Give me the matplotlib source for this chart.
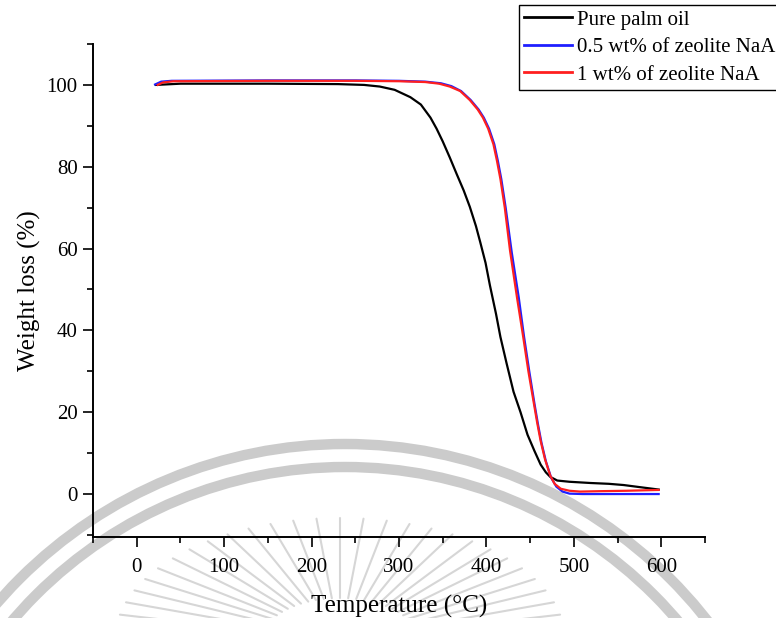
"""TGA curves: pure palm oil vs palm oil with zeolite NaA."""

import matplotlib

matplotlib.use("Agg")
import matplotlib.pyplot as plt  # noqa: E402
import numpy as np  # noqa: E402
from matplotlib.patches import Circle  # noqa: E402
from matplotlib.ticker import MultipleLocator  # noqa: E402

# --- data (temperature, deg C / weight, %) ---
T_PURE = [22, 50, 150, 230, 260, 278, 295, 313, 325, 336, 343, 350, 358,
          366, 374, 381, 388, 393, 399, 404, 411, 416, 423, 431, 439, 447,
          455, 462, 468, 473, 481, 495, 519, 540, 557, 575, 597]
W_PURE = [100.0, 100.3, 100.3, 100.2, 100.0, 99.6, 98.8, 97.0, 95.2, 92.0,
          89.3, 86.2, 82.3, 78.2, 74.2, 70.2, 65.5, 61.5, 56.5, 51.0, 44.0,
          38.4, 32.0, 25.0, 20.0, 14.5, 10.5, 7.2, 5.3, 4.2, 3.3, 3.0, 2.7,
          2.5, 2.2, 1.7, 1.1]

T_05 = [21, 28, 40, 150, 250, 300, 330, 348, 360, 371, 382, 391, 397, 403,
        409, 413, 417, 422, 429, 437, 443, 449, 455, 459, 463, 468, 474, 480,
        487, 495, 510, 560, 597]
W_05 = [100.1, 100.8, 101.0, 101.1, 101.1, 101.0, 100.8, 100.4, 99.7, 98.5,
        96.3, 94.0, 92.0, 89.3, 85.5, 81.5, 77.0, 70.0, 59.0, 48.0, 38.5,
        30.0, 22.0, 17.0, 12.5, 8.0, 4.0, 1.8, 0.6, 0.1, 0.0, 0.0, 0.0]

T_1 = [24, 30, 42, 150, 250, 300, 330, 346, 358, 370, 381, 390, 396, 402,
       408, 412, 416, 421, 427, 435, 442, 448, 454, 458, 462, 467, 473, 478,
       485, 495, 507, 530, 560, 597]
W_1 = [100.0, 100.6, 100.9, 101.0, 101.0, 100.9, 100.7, 100.3, 99.6, 98.5,
       96.3, 94.0, 92.0, 89.3, 85.5, 81.5, 77.0, 70.0, 59.5, 48.0, 38.5,
       30.0, 22.5, 17.5, 13.0, 8.5, 4.5, 2.5, 1.3, 0.8, 0.6, 0.7, 0.8, 1.0]

LABELS = ["Pure palm oil", "0.5 wt% of zeolite NaA", "1 wt% of zeolite NaA"]
COLORS = ["black", "#1f1fff", "#ff1f1f"]

W_PX, H_PX = 776, 618

plt.rcParams["font.family"] = ["Liberation Serif", "DejaVu Serif"]

fig = plt.figure(figsize=(W_PX / 100, H_PX / 100), dpi=100)

# watermark layer, in pixel units
bg = fig.add_axes([0, 0, 1, 1], zorder=0)
bg.set_xlim(0, W_PX)
bg.set_ylim(H_PX, 0)
bg.axis("off")
wm = "#cbcbcb"
for r in (460, 437):
    bg.add_patch(Circle((345, 904), r, fill=False, lw=7.5, ec=wm))
cx, cy = 340, 640
for ang in np.linspace(12, 168, 27):
    a = np.deg2rad(ang)
    k = 1.0 if int(round(ang)) % 2 == 0 else 0.85
    x0, y0 = cx + 130 * np.cos(a) * 0.6, cy - 70 * np.sin(a) * 0.6
    x1, y1 = cx + 225 * k * np.cos(a), cy - 122 * k * np.sin(a)
    bg.plot([x0, x1], [y0, y1], color="#d6d6d6", lw=1.5,
            solid_capstyle="round")

ax = fig.add_axes([93 / W_PX, 81 / H_PX, 612 / W_PX, 493 / H_PX], zorder=1)
ax.patch.set_alpha(0)

h1, = ax.plot(T_PURE, W_PURE, color=COLORS[0], lw=1.6)
h2, = ax.plot(T_05, W_05, color=COLORS[1], lw=1.6)
h3, = ax.plot(T_1, W_1, color=COLORS[2], lw=1.6)

ax.set_xlim(-50, 650)
ax.set_ylim(-10.5, 110)
ax.xaxis.set_major_locator(MultipleLocator(100))
ax.xaxis.set_minor_locator(MultipleLocator(50))
ax.yaxis.set_major_locator(MultipleLocator(20))
ax.yaxis.set_minor_locator(MultipleLocator(10))
for s in ("top", "right"):
    ax.spines[s].set_visible(False)
for s in ("left", "bottom"):
    ax.spines[s].set_linewidth(1.4)
ax.tick_params(which="major", direction="out", length=7, width=1.2,
               labelsize=15, colors="black", pad=4)
ax.tick_params(which="minor", direction="out", length=4, width=1.2)
ax.tick_params(axis="x", pad=8)

ax.set_xlabel("Temperature (°C)", fontsize=18, labelpad=13)
ax.set_ylabel("Weight loss (%)", fontsize=18, labelpad=4)

leg = fig.legend([h1, h2, h3], LABELS, loc="upper left",
                 bbox_to_anchor=(519 / W_PX, 1 - 5 / H_PX),
                 bbox_transform=fig.transFigure, borderaxespad=0,
                 fontsize=15, handlelength=2.3, handletextpad=0.25,
                 labelspacing=0.38, borderpad=0.25, fancybox=False,
                 framealpha=1, edgecolor="black")
leg.get_frame().set_linewidth(1.0)
for line in leg.get_lines():
    line.set_linewidth(2.0)

fig.savefig("out.png", dpi=100)
